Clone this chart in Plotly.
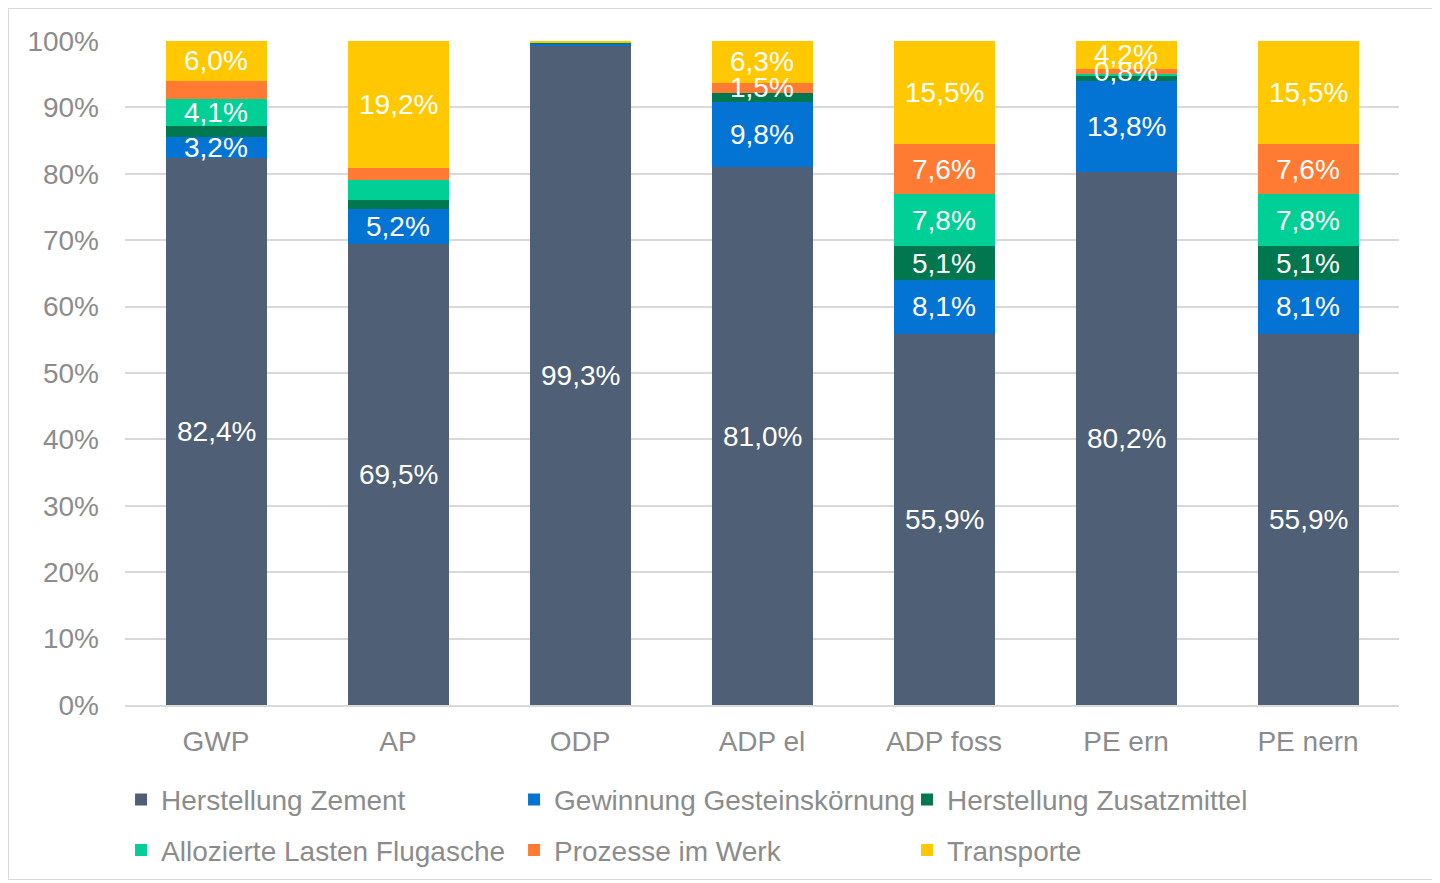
import plotly.graph_objects as go

categories = ["GWP", "AP", "ODP", "ADP el", "ADP foss", "PE ern", "PE nern"]

series_names = ["Herstellung Zement", "Gewinnung Gesteinskörnung", "Herstellung Zusatzmittel",
                "Allozierte Lasten Flugasche", "Prozesse im Werk", "Transporte"]

herstellung_zement = [82.4, 69.5, 99.3, 81.0, 55.9, 80.2, 55.9]
gewinnung_gestein = [3.2, 5.2, 0.3, 9.8, 8.1, 13.8, 8.1]
herstellung_zusatz = [1.6, 1.4, 0.2, 1.4, 5.1, 0.8, 5.1]
allozierte_flugasche = [4.1, 3.0, 0.0, 0.0, 7.8, 0.2, 7.8]
prozesse_werk = [2.7, 1.7, 0.0, 1.5, 7.6, 0.8, 7.6]
transporte = [6.0, 19.2, 0.2, 6.3, 15.5, 4.2, 15.5]

y_tick_values = list(range(0, 101, 10))
y_tick_labels = [f"{v}%" for v in y_tick_values]

# which data labels are shown (as in the original)
labels_shown = [
    [True, True, True, True, True, True, True],
    [True, True, False, True, True, True, True],
    [False, False, False, False, True, False, True],
    [True, False, False, False, True, False, True],
    [False, False, False, True, True, True, True],
    [True, True, False, True, True, True, True],
]

colors = ["#4f5f76", "#0474d4", "#00774f", "#00d095", "#ff7b33", "#ffc800"]
legend_ids = ["legend", "legend", "legend", "legend2", "legend2", "legend2"]

series = [herstellung_zement, gewinnung_gestein, herstellung_zusatz,
          allozierte_flugasche, prozesse_werk, transporte]

FONT = "Liberation Sans, Arial, sans-serif"
FS = 28
fig = go.Figure()
for name, vals, col, lg in zip(series_names, series, colors, legend_ids):
    fig.add_trace(go.Bar(x=categories, y=vals, name=name, legend=lg,
                         marker=dict(color=col, line=dict(width=0)),
                         hoverinfo="x+y+name"))

annotations = []
base = [0.0] * len(categories)
for vals, shown in zip(series, labels_shown):
    for i, (v, s) in enumerate(zip(vals, shown)):
        if s:
            annotations.append(dict(x=categories[i], y=base[i] + v / 2, xref="x", yref="y",
                                    text=f"{v:.1f}".replace(".", ",") + "%", showarrow=False,
                                    font=dict(family=FONT, size=FS, color="white")))
        base[i] += v

legend_common = dict(orientation="h", xanchor="left", yanchor="top", entrywidth=348,
                     traceorder="normal", font=dict(family=FONT, size=FS, color="#8c8c8c"),
                     itemclick=False, bgcolor="rgba(0,0,0,0)")

fig.update_layout(
    barmode="stack",
    bargap=0.445,
    width=1426, height=872,
    margin=dict(l=117, r=35, t=33, b=175, autoexpand=False),
    paper_bgcolor="white", plot_bgcolor="white",
    font=dict(family=FONT, size=FS, color="#8c8c8c"),
    annotations=annotations,
    showlegend=True,
    legend=dict(x=-0.0031, y=-0.105, **legend_common),
    legend2=dict(x=-0.0031, y=-0.181, **legend_common),
    shapes=[dict(type="rect", xref="paper", yref="paper",
                 x0=-116.5 / 1274, x1=1 + 34.5 / 1274, y0=-174.5 / 664, y1=1 + 32.5 / 664,
                 line=dict(color="#d9d9d9", width=1.2), fillcolor="rgba(0,0,0,0)", layer="below")],
)
fig.update_yaxes(range=[0, 100], tickmode="array", tickvals=y_tick_values, ticktext=y_tick_labels,
                 showgrid=True, gridcolor="#d9d9d9", gridwidth=1.5, zeroline=False,
                 showline=False, ticklabelstandoff=25, tickfont=dict(size=FS, color="#8c8c8c"))
fig.update_xaxes(showline=True, linecolor="#d9d9d9", linewidth=1.5, ticks="",
                 ticklabelstandoff=11, tickfont=dict(size=FS, color="#8c8c8c"))

fig.write_html("out.html")
